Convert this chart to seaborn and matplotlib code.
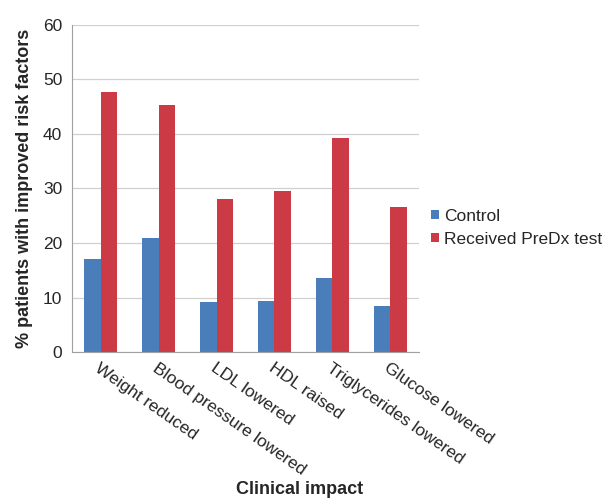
import numpy as np
import pandas as pd
import matplotlib
matplotlib.use("Agg")
import matplotlib.pyplot as plt
import seaborn as sns

categories = ["Weight reduced", "Blood pressure lowered", "LDL lowered",
              "HDL raised", "Triglycerides lowered", "Glucose lowered"]
control = [17.0, 20.9, 9.1, 9.4, 13.6, 8.5]
predx = [47.7, 45.3, 28.0, 29.6, 39.2, 26.6]
series = ["Control", "Received PreDx test"]

df = pd.DataFrame({
    "impact": categories * 2,
    "pct": control + predx,
    "group": [series[0]] * len(categories) + [series[1]] * len(categories),
})

sns.set_style("white")
plt.rcParams['font.family'] = ['Liberation Sans', 'DejaVu Sans']

fig = plt.figure(figsize=(6.1, 4.98), dpi=100)
ax = fig.add_axes([0.118, 0.293, 0.569, 0.657])

sns.barplot(data=df, x="impact", y="pct", hue="group", ax=ax,
            palette=["#4a7ebb", "#cc3a45"], width=0.57, saturation=1,
            errorbar=None, legend=True, linewidth=0)

ax.set_ylim(0, 60)
ax.set_yticks(range(0, 61, 10))
ax.set_xlim(-0.5, len(categories) - 0.5)
ax.yaxis.grid(True, color="#d0d0d0", linewidth=0.9)
ax.set_axisbelow(True)
for s in ["top", "right"]:
    ax.spines[s].set_visible(False)
ax.spines["left"].set_color("#a0a0a0")
ax.spines["bottom"].set_color("#a0a0a0")

ax.tick_params(axis="y", labelsize=12.5, length=4, color="#a0a0a0", pad=3)
# category ticks sit between the groups
ax.set_xticks(np.arange(len(categories)))
ax.set_xticklabels(categories, rotation=-35, ha="left", rotation_mode="anchor", fontsize=12.5)
ax.set_xticks(np.arange(-0.5, len(categories)), minor=True)
ax.tick_params(axis="x", which="major", length=0, pad=6)
ax.tick_params(axis="x", which="minor", length=5, color="#a0a0a0")

ax.set_ylabel("% patients with improved risk factors", fontsize=13, fontweight="bold", labelpad=7)
ax.set_xlabel("Clinical impact", fontsize=13, fontweight="bold")
ax.xaxis.set_label_coords(0.657, -0.395)

leg = ax.legend(loc="center left", bbox_to_anchor=(1.0, 0.38), frameon=False,
                fontsize=12.5, handlelength=0.45, handleheight=0.45, handletextpad=0.3,
                labelspacing=0.45, borderaxespad=0.3)

fig.savefig("out.png", dpi=100)
